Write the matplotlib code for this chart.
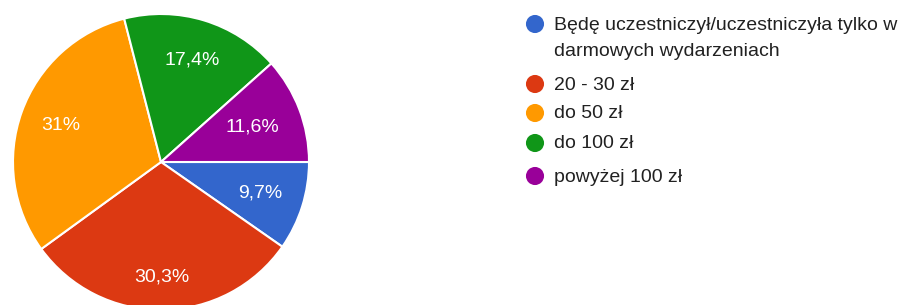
import numpy as np
import matplotlib.pyplot as plt

plt.rcParams['font.family'] = ['Liberation Sans', 'DejaVu Sans']

# Data
categories = ["Będę uczestniczył/uczestniczyła tylko w\ndarmowych wydarzeniach",
              "20 - 30 zł", "do 50 zł", "do 100 zł", "powyżej 100 zł"]
percent = [9.7, 30.3, 31.0, 17.4, 11.6]
colors = ["#3366cc", "#dc3912", "#ff9900", "#109618", "#990099"]

def fmt(p):
    s = f"{p:.1f}".replace(".", ",")
    if s.endswith(",0"):
        s = s[:-2]
    return s + "%"

W, H = 906, 305
fig = plt.figure(figsize=(W / 100, H / 100), dpi=100)

# pie: centre (161,162) px, radius 148 px
cx, cy, r = 161, 162, 148
ax = fig.add_axes([(cx - r) / W, (H - cy - r) / H, 2 * r / W, 2 * r / H])
wedges, _ = ax.pie(percent, colors=colors, startangle=0, counterclock=False,
                   radius=1, wedgeprops=dict(edgecolor="white", linewidth=1.5))
ax.set_xlim(-1, 1)
ax.set_ylim(-1, 1)
ax.set_aspect("equal")
ax.axis("off")

# percentage labels inside wedges
label_dist = [0.70, 0.78, 0.72, 0.72, 0.66]
for w, p, d in zip(wedges, percent, label_dist):
    ang = np.deg2rad((w.theta1 + w.theta2) / 2)
    ax.text(d * np.cos(ang), d * np.sin(ang), fmt(p), color="white",
            fontsize=14, ha="center", va="center")

# legend drawn in pixel coordinates
lax = fig.add_axes([0, 0, 1, 1])
lax.set_xlim(0, W)
lax.set_ylim(H, 0)
lax.axis("off")
rows_y = [24, 84, 113, 143, 176]
for y, c, name in zip(rows_y, colors, categories):
    lax.scatter([535], [y], s=170, color=c, edgecolor="none")
    for i, line in enumerate(name.split("\n")):
        lax.text(554, y + 1 + i * 26, line, fontsize=14, color="#212121",
                 ha="left", va="center")

fig.savefig("out.png", dpi=100)
